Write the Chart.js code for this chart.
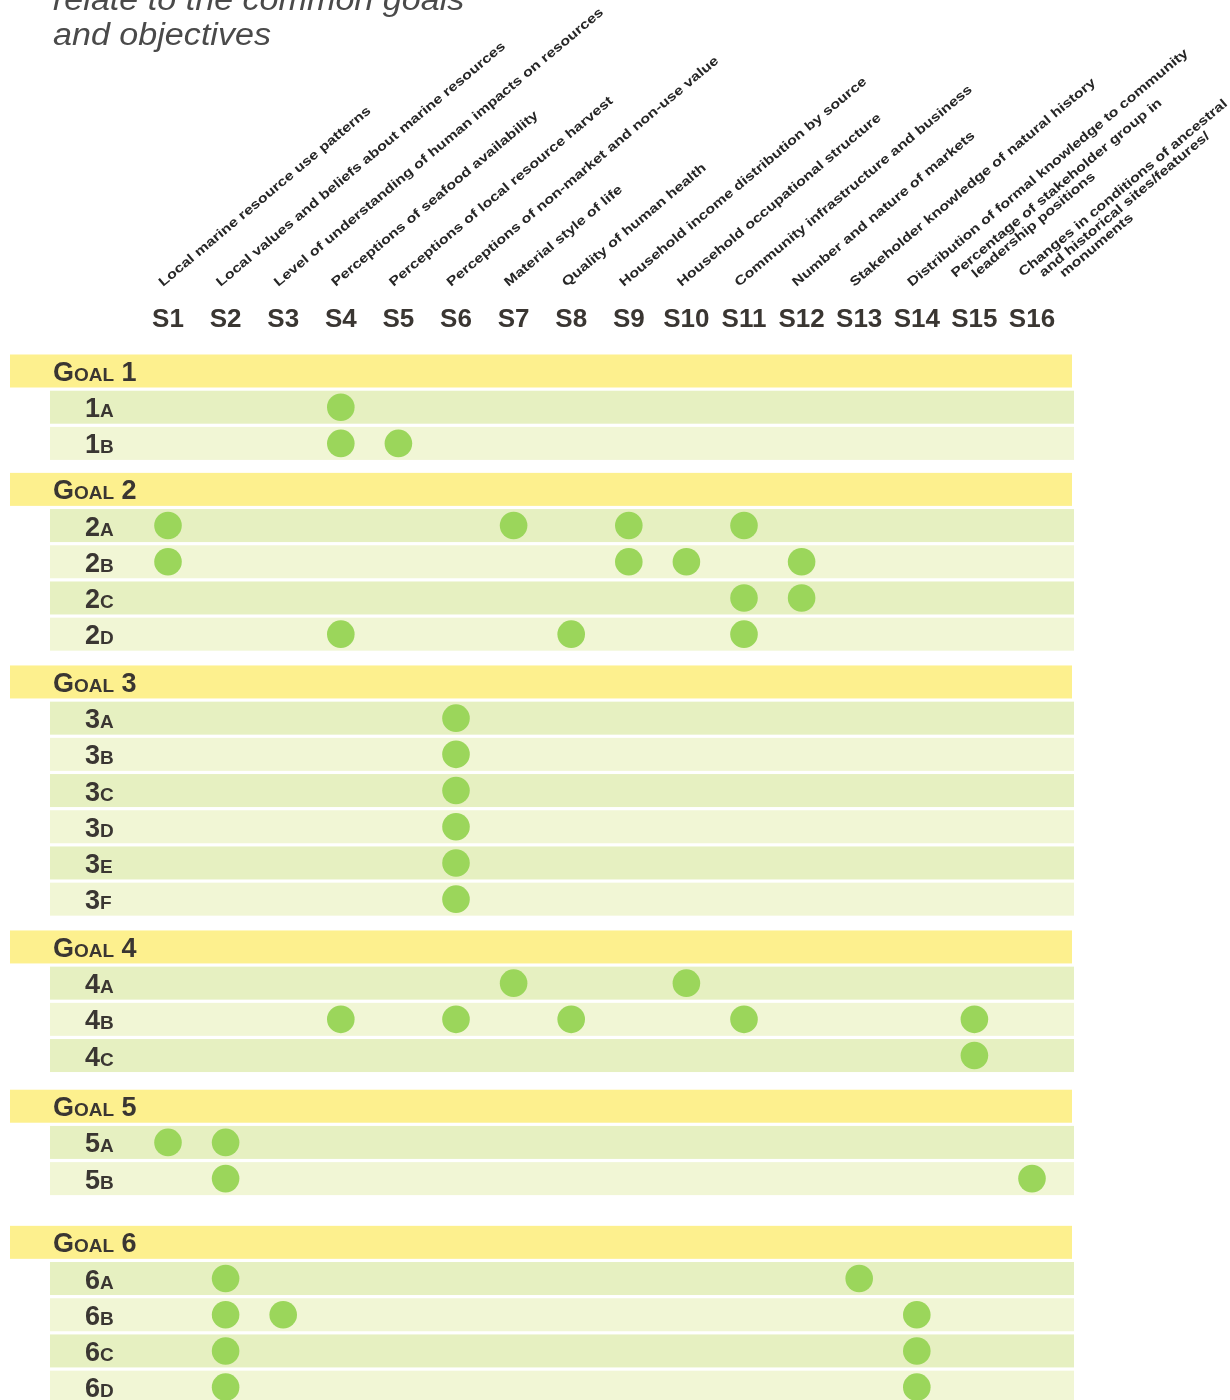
<!DOCTYPE html>
<html>
<head>
<meta charset="utf-8">
<title>Goals and objectives vs indicators</title>
<script src="https://cdn.jsdelivr.net/npm/chart.js@4.4.1/dist/chart.umd.min.js"></script>
<style>
  body { margin: 0; background: #fff; }
  #wrap { position: relative; width: 1230px; height: 1400px; overflow: hidden; }
  #matrix { position: absolute; left: 0; top: 0; }
  .title {
    position: absolute; left: 53px; top: -18px;
    font: italic 31px "Liberation Sans", Arial, sans-serif;
    line-height: 35px; color: #4a4a4a; white-space: nowrap;
    transform: scaleX(1.1); transform-origin: 0 0;
  }
</style>
</head>
<body>
<div id="wrap">
  <canvas id="matrix" width="1230" height="1400"></canvas>
  <div class="title">relate to the common goals<br>and objectives</div>
</div>
<script>
// indicator columns
const columns = ['S1', 'S2', 'S3', 'S4', 'S5', 'S6', 'S7', 'S8',
                 'S9', 'S10', 'S11', 'S12', 'S13', 'S14', 'S15', 'S16'];

const indicatorNames = [
  ['Local marine resource use patterns'],
  ['Local values and beliefs about marine resources'],
  ['Level of understanding of human impacts on resources'],
  ['Perceptions of seafood availability'],
  ['Perceptions of local resource harvest'],
  ['Perceptions of non-market and non-use value'],
  ['Material style of life'],
  ['Quality of human health'],
  ['Household income distribution by source'],
  ['Household occupational structure'],
  ['Community infrastructure and business'],
  ['Number and nature of markets'],
  ['Stakeholder knowledge of natural history'],
  ['Distribution of formal knowledge to community'],
  ['Percentage of stakeholder group in', 'leadership positions'],
  ['Changes in conditions of ancestral', 'and historical sites/features/', 'monuments']
];

const goals = ['1', '2', '3', '4', '5', '6'];

const objectives = ['1A', '1B',
                    '2A', '2B', '2C', '2D',
                    '3A', '3B', '3C', '3D', '3E', '3F',
                    '4A', '4B', '4C',
                    '5A', '5B',
                    '6A', '6B', '6C', '6D'];

// indicator numbers (S#) linked to each objective
const objectiveLinks = [
  [4], [4, 5],
  [1, 7, 9, 11], [1, 9, 10, 12], [11, 12], [4, 8, 11],
  [6], [6], [6], [6], [6], [6],
  [7, 10], [4, 6, 8, 11, 15], [15],
  [1, 2], [2, 16],
  [2, 13], [2, 3, 14], [2, 14], [2, 14]
];

// layout
const W = 1230, H = 1400;
const COL_PX = 57.6, FIRST_COL_PX = 168;
const ROW_PX = 36.2, FIRST_ROW_PX = 371;
const extraGapBefore = [0, 0.27, 0.32, 0.32, 0.4, 0.76]; // extra white space above each goal, in rows
const BAND_H = 33;
const TEXT = '#3a3632';
const nameShift = { 14: [-14, -9], 15: [-4, -10] }; // nudges for the wrapped names (S15, S16)

// rows in drawing order
const rows = [];
let pos = 0;
goals.forEach((g, gi) => {
  if (gi > 0) pos += 1 + extraGapBefore[gi];
  rows.push({ type: 'goal', label: g, pos: pos });
  let k = 0;
  objectives.forEach((o, oi) => {
    if (o[0] === g) {
      pos += 1;
      rows.push({ type: 'obj', label: o, pos: pos, k: k++, links: objectiveLinks[oi] });
    }
  });
});

const points = [];
rows.forEach(r => {
  if (r.type === 'obj') r.links.forEach(s => points.push({ x: s, y: r.pos }));
});

function drawSmallCaps(ctx, parts, x, y) {
  parts.forEach(([txt, size]) => {
    ctx.font = 'bold ' + size + 'px "Liberation Sans", Arial, sans-serif';
    ctx.fillText(txt, x, y);
    x += ctx.measureText(txt).width;
  });
}

const matrixDecor = {
  id: 'matrixDecor',
  beforeDatasetsDraw(chart) {
    const { ctx, scales: { x, y } } = chart;
    ctx.save();

    // row bands and row labels
    rows.forEach(r => {
      const cy = y.getPixelForValue(r.pos);
      ctx.textBaseline = 'alphabetic';
      ctx.textAlign = 'left';
      if (r.type === 'goal') {
        ctx.fillStyle = '#fdf08e';
        ctx.fillRect(10, cy - BAND_H / 2, 1062, BAND_H);
        ctx.fillStyle = TEXT;
        drawSmallCaps(ctx, [['G', 27], ['OAL', 19], [' ' + r.label, 27]], 53, cy + 10);
      } else {
        ctx.fillStyle = r.k % 2 ? '#f1f6d5' : '#e6f0c1';
        ctx.fillRect(50, cy - BAND_H / 2, 1024, BAND_H);
        ctx.fillStyle = TEXT;
        drawSmallCaps(ctx, [[r.label[0], 27], [r.label[1], 19]], 85, cy + 10);
      }
    });

    // column codes
    ctx.fillStyle = TEXT;
    ctx.font = 'bold 26px "Liberation Sans", Arial, sans-serif';
    ctx.textAlign = 'center';
    ctx.textBaseline = 'alphabetic';
    columns.forEach((c, i) => ctx.fillText(c, x.getPixelForValue(i + 1), 327));

    // slanted indicator names
    ctx.fillStyle = '#262626';
    ctx.font = 'bold 13px "Liberation Sans", Arial, sans-serif';
    ctx.textAlign = 'left';
    const ang = -40 * Math.PI / 180;
    const lineGap = 13.5;
    indicatorNames.forEach((lines, i) => {
      const nudge = nameShift[i] || [0, 0];
      const ax = x.getPixelForValue(i + 1) - 5 + nudge[0];
      const ay = 287 + nudge[1];
      ctx.save();
      ctx.translate(ax, ay);
      ctx.rotate(ang);
      ctx.scale(1.24, 1);
      lines.forEach((t, li) => ctx.fillText(t, li * 12.5, li * lineGap));
      ctx.restore();
    });

    ctx.restore();
  }
};

const X_MIN = 1 - FIRST_COL_PX / COL_PX;
const Y_MIN = -FIRST_ROW_PX / ROW_PX;

new Chart(document.getElementById('matrix').getContext('2d'), {
  type: 'scatter',
  data: {
    datasets: [{
      label: 'Indicator relates to objective',
      data: points,
      backgroundColor: '#9bd65b',
      borderWidth: 0,
      pointRadius: 13.8,
      pointHoverRadius: 13.8
    }]
  },
  options: {
    responsive: false,
    animation: false,
    devicePixelRatio: 1,
    events: [],
    layout: { padding: 0, autoPadding: false },
    plugins: { legend: { display: false }, tooltip: { enabled: false } },
    scales: {
      x: { type: 'linear', display: false, min: X_MIN, max: X_MIN + W / COL_PX },
      y: { type: 'linear', display: false, reverse: true, min: Y_MIN, max: Y_MIN + H / ROW_PX }
    }
  },
  plugins: [matrixDecor]
});
</script>
</body>
</html>
